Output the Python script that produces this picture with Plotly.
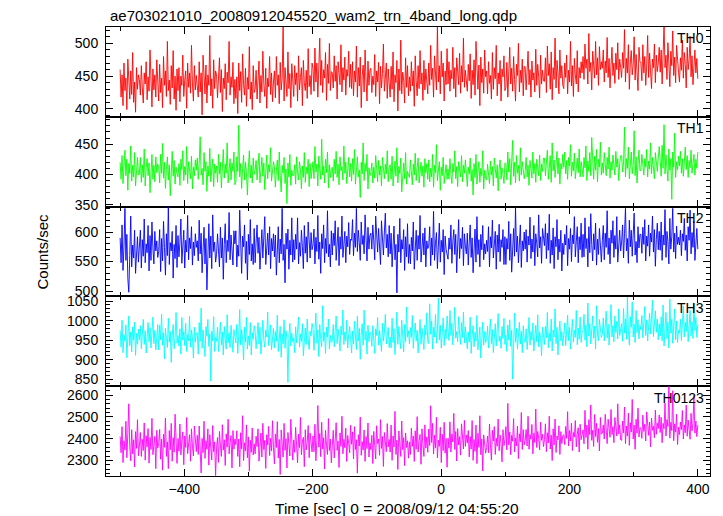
import numpy as np
import plotly.graph_objects as go
from plotly.subplots import make_subplots

title_text = "ae703021010_20080912045520_wam2_trn_4band_long.qdp"
x_title = "Time [sec] 0 = 2008/09/12 04:55:20"
y_title = "Counts/sec"
band_names = ["TH0", "TH1", "TH2", "TH3", "TH0123"]
band_colors = ["#ff0000", "#00ff00", "#0000ff", "#00ffff", "#ff00ff"]
t_start, t_end = -500, 400

th0 = [
    460,418,452,405,470,428,447,399,476,433,415,458,422,486,410,441,395,463,430,452,
    445,421,466,432,409,455,438,472,414,449,427,490,436,403,461,429,452,418,475,440,
    412,468,425,447,402,480,436,458,419,503,428,444,407,466,432,489,415,450,398,461,
    428,463,411,450,436,482,419,444,458,401,470,433,455,424,497,438,412,466,429,451,
    437,418,472,426,455,391,482,441,423,467,409,452,436,512,420,446,401,475,431,458,
    452,417,439,478,425,460,396,447,431,469,414,456,440,503,421,449,433,471,408,445,
    416,449,393,470,428,457,410,484,437,421,462,404,448,430,495,415,441,399,466,425,
    430,459,415,442,473,409,451,426,488,437,419,462,401,447,434,480,422,455,411,441,
    458,417,480,436,452,408,471,429,446,525,412,463,438,419,487,431,454,402,469,440,
    419,466,437,455,412,481,429,448,463,405,474,440,428,459,416,492,434,451,422,470,
    462,427,493,441,470,418,455,508,436,474,425,460,447,486,413,468,439,500,428,457,
    455,432,481,442,466,415,472,449,437,498,426,463,444,479,421,460,450,488,433,468,
    431,472,420,458,441,496,418,463,435,479,402,451,467,426,490,444,412,473,436,459,
    462,425,450,437,483,419,458,441,471,408,465,432,454,499,427,447,470,416,461,438,
    418,465,430,487,411,452,440,474,397,461,428,505,423,456,444,409,478,433,466,420,
    449,427,472,435,458,404,481,443,420,466,431,489,438,455,413,474,429,461,445,423,
    470,436,497,445,462,418,481,452,429,526,441,466,423,488,449,470,412,458,437,492,
    438,472,427,459,446,494,431,463,418,478,452,437,485,424,466,441,508,433,459,447,
    427,468,443,484,416,459,437,475,421,503,446,430,467,405,479,440,461,424,490,449,
    458,423,472,439,451,415,486,430,463,446,497,420,455,438,474,412,461,449,481,428,
    433,471,418,456,494,438,462,427,480,445,412,468,451,500,426,459,440,476,420,465,
    464,429,451,488,437,460,418,473,444,455,426,491,436,468,449,417,482,438,459,443,
    442,478,425,496,451,469,430,487,414,463,445,508,432,474,455,423,490,447,466,436,
    431,470,448,482,423,459,441,503,435,466,419,477,452,438,489,426,463,447,472,455,
    480,445,499,462,476,438,515,457,471,429,488,464,447,503,452,478,436,495,460,472,
    462,490,441,473,455,509,448,477,432,466,494,451,470,439,485,460,501,445,476,463,
    448,486,462,521,441,477,455,498,430,470,489,452,467,510,444,483,461,428,494,472,
    471,443,498,455,480,436,467,512,448,485,458,431,476,463,499,440,482,457,470,494,
    456,490,438,476,528,463,482,445,501,470,434,488,466,519,451,479,440,497,468,456,
    441,478,459,505,447,486,468,432,494,460,475,511,449,481,437,472,490,455,477,446,
]

th1 = [
    420,392,431,385,412,440,398,425,374,418,402,447,389,415,396,436,381,410,428,399,
    401,428,387,416,395,442,381,411,426,398,419,370,407,433,392,415,388,429,403,417,
    411,386,433,402,451,394,420,377,408,429,391,416,365,404,438,397,423,384,412,401,
    396,418,382,425,408,439,390,413,399,446,385,421,404,393,430,376,412,398,424,407,
    427,392,418,462,399,410,383,436,405,421,372,414,397,443,388,409,425,380,417,402,
    414,387,433,401,420,378,409,441,394,417,402,452,386,411,426,391,419,405,437,383,
    388,429,405,481,396,418,377,410,432,391,420,403,366,411,439,394,415,386,427,400,
    407,423,391,414,435,386,403,428,397,419,375,412,432,393,416,404,444,389,410,421,
    413,379,406,424,390,437,398,371,415,402,428,385,409,352,419,396,433,382,407,398,
    398,416,384,429,403,391,421,408,376,414,395,436,387,412,401,425,380,418,393,409,
    421,393,446,404,417,381,430,408,392,458,399,414,386,425,403,437,378,416,395,410,
    412,389,425,401,438,395,417,383,429,406,413,391,447,402,420,385,411,428,396,418,
    389,426,400,441,384,413,429,396,407,362,420,401,452,390,418,405,433,376,411,398,
    403,419,386,412,394,431,407,388,423,399,414,381,428,406,393,417,401,439,388,412,
    416,392,430,381,409,422,397,444,386,413,402,427,371,408,419,393,436,384,405,399,
    395,424,408,383,417,399,435,390,411,427,386,405,420,397,414,379,426,403,418,392,
    424,388,410,396,433,379,415,403,449,390,407,421,374,412,398,428,385,403,416,392,
    409,392,426,401,385,418,404,439,393,413,380,421,407,396,431,388,415,402,424,397,
    380,412,401,427,389,408,366,418,395,433,384,405,421,387,410,398,439,376,407,394,
    391,417,403,385,422,399,413,381,427,405,394,416,373,409,424,392,411,400,385,419,
    418,391,437,404,426,383,412,456,397,420,386,431,402,415,389,444,399,421,408,393,
    404,428,396,415,382,423,409,394,437,401,418,387,425,411,398,432,390,417,405,427,
    427,398,415,440,392,419,431,387,452,406,424,395,414,438,401,427,384,418,409,433,
    412,437,401,423,392,428,414,449,397,420,406,435,393,418,427,403,442,396,421,410,
    396,428,411,447,390,422,405,436,398,461,417,392,430,407,441,388,425,412,453,399,
    419,402,436,413,398,428,409,445,394,421,407,432,417,399,438,412,426,390,418,431,
    431,404,419,478,396,426,410,445,393,420,437,401,415,472,398,429,386,418,440,406,
    407,433,415,399,426,412,441,396,422,409,452,401,428,414,393,436,419,405,427,446,
    423,397,448,410,482,401,432,415,389,442,407,426,359,437,412,468,395,421,408,430,
    414,438,402,426,397,419,445,408,431,395,423,411,440,402,418,433,399,425,410,437,
]

th2 = [
    590,548,612,535,575,640,552,596,521,498,560,627,541,578,556,603,530,571,592,549,
    571,603,539,587,559,622,548,580,565,611,534,594,552,617,573,546,601,568,585,557,
    567,604,533,589,551,618,574,527,597,560,642,545,582,568,601,522,579,555,611,540,
    594,558,581,622,547,575,603,539,586,566,628,553,590,572,609,544,583,560,597,574,
    585,551,620,563,598,531,576,608,546,589,502,572,614,556,593,538,629,567,583,549,
    562,597,575,541,608,556,590,520,579,614,548,586,567,633,553,595,571,544,602,580,
    602,541,578,559,637,568,530,593,575,612,547,584,519,596,562,621,551,580,545,606,
    548,583,612,564,591,537,578,604,556,587,626,545,573,598,561,609,538,589,568,597,
    558,595,527,576,609,548,588,563,640,552,579,514,598,571,605,537,586,561,624,549,
    587,553,596,571,624,546,582,559,603,575,538,611,564,592,549,617,580,556,599,570,
    578,605,546,591,567,628,554,583,530,597,572,612,548,589,564,636,558,579,541,602,
    561,598,577,619,552,586,608,543,592,571,627,557,584,601,548,593,575,616,562,588,
    586,621,560,598,574,640,567,603,582,552,617,579,594,563,629,576,551,608,571,594,
    598,571,612,585,553,627,590,566,606,578,545,619,587,561,600,632,573,596,558,611,
    563,598,541,584,610,553,579,497,596,566,623,548,587,571,604,535,592,558,614,547,
    579,546,591,568,617,537,586,603,552,594,571,628,549,583,598,561,607,541,585,572,
    576,609,543,590,561,635,552,581,599,538,574,615,549,586,566,604,528,593,571,557,
    554,590,571,612,547,583,604,562,596,531,578,621,555,589,572,608,543,597,576,563,
    598,544,583,612,557,590,531,574,605,549,626,562,587,541,596,570,611,553,580,563,
    586,567,609,541,592,573,620,556,584,601,537,595,566,613,550,587,574,604,545,592,
    545,589,571,618,552,597,532,581,606,559,642,566,593,548,579,612,540,585,568,600,
    571,604,549,593,578,625,555,588,566,611,543,597,581,558,629,573,592,547,606,583,
    577,614,555,598,569,630,547,586,561,607,538,592,575,621,553,588,566,603,534,581,
    562,596,578,611,543,589,571,606,550,595,580,626,558,584,609,548,592,570,615,557,
    596,558,624,572,589,541,609,565,631,579,551,597,570,615,544,588,562,606,577,549,
    585,611,553,598,574,636,562,590,546,603,581,619,557,594,571,626,549,587,603,568,
    583,612,556,597,640,568,589,547,620,575,603,559,591,632,561,584,548,609,573,596,
    596,564,608,579,621,551,593,576,612,559,598,583,627,566,604,542,588,615,570,601,
    569,617,552,595,578,638,557,601,584,546,623,571,592,640,566,598,555,610,579,591,
    578,603,560,597,584,623,569,595,551,609,586,637,563,599,574,618,552,593,606,571,
]

th3 = [
    975,932,1001,918,963,947,989,905,958,1012,936,971,920,984,950,996,911,967,940,978,
    951,987,928,965,1003,939,974,917,960,995,946,982,930,968,1009,941,975,925,957,990,
    925,988,951,1017,937,969,902,980,954,931,1006,945,972,893,961,990,928,956,1021,942,
    962,935,979,914,1008,950,971,936,993,921,965,948,1011,932,976,957,904,983,945,968,
    968,914,995,947,1032,929,976,951,908,985,960,1003,934,966,845,973,948,1010,921,957,
    947,983,921,962,996,938,971,912,985,954,927,1015,943,969,931,988,956,919,977,950,
    943,990,916,964,1028,938,977,952,899,983,945,1008,927,961,936,995,912,969,952,987,
    972,928,961,995,940,983,914,967,1001,949,932,976,958,1022,936,963,989,925,954,980,
    930,972,947,1014,921,959,985,906,966,940,1002,929,974,952,842,961,993,935,968,946,
    955,918,984,943,971,1009,932,966,947,992,910,958,981,939,1004,952,926,973,961,993,
    981,924,963,1019,942,976,908,990,951,933,1038,947,970,916,983,958,1004,927,962,944,
    948,990,933,967,1012,941,978,955,922,986,963,1027,939,971,948,1001,930,964,985,952,
    917,973,940,998,955,926,1011,948,980,901,965,992,937,1027,950,973,914,988,946,969,
    969,934,987,951,916,979,962,1008,937,974,955,921,993,948,968,1016,940,959,982,931,
    958,930,1006,944,979,913,967,1022,939,985,952,928,1001,963,920,990,946,1035,958,974,
    940,982,957,1013,929,966,994,948,975,917,961,1003,939,980,954,926,989,963,1020,945,
    941,1043,965,999,927,983,958,1016,942,975,1058,951,988,930,969,1007,936,978,954,1012,
    977,949,1026,962,993,938,981,1034,955,972,946,1010,968,939,995,957,1022,943,984,961,
    928,971,945,1009,916,962,987,933,970,948,1013,925,960,983,904,955,996,937,972,944,
    952,986,930,968,1004,941,977,918,963,992,935,971,1018,948,960,929,985,954,1006,939,
    963,921,989,950,1002,934,975,850,968,1019,945,980,927,961,996,940,973,918,987,953,
    944,979,926,961,1008,937,972,951,994,922,966,988,946,1015,933,970,957,910,983,962,
    939,985,956,1021,930,968,947,1004,922,976,958,1030,941,983,912,965,999,948,971,935,
    958,994,936,977,1014,949,983,927,966,1003,945,975,957,1026,938,981,952,1009,944,970,
    974,1016,950,988,933,1045,961,992,940,978,1012,955,986,927,1038,966,949,1003,971,957,
    965,1007,948,983,1024,956,991,937,975,1041,958,987,946,1012,969,998,953,1030,962,984,
    992,947,1031,968,1005,952,1060,975,937,1010,983,1048,958,991,944,1026,969,1002,953,987,
    977,1013,956,994,1036,962,1002,948,985,1019,966,997,1052,959,988,1025,970,1004,951,992,
    961,1010,948,1040,935,982,1021,954,996,930,1055,968,1003,942,985,1030,951,999,944,975,
    968,1003,949,987,1037,958,995,972,1018,946,983,1026,961,997,954,1044,975,1008,957,990,
]

th0123 = [
    2410,2335,2455,2290,2390,2348,2480,2312,2425,2560,2362,2298,2441,2330,2395,2270,2432,2355,2487,2321,
    2365,2428,2318,2397,2345,2472,2301,2413,2362,2446,2287,2405,2350,2493,2326,2384,2410,2262,2438,2356,
    2378,2442,2305,2398,2255,2420,2360,2495,2318,2385,2262,2437,2349,2470,2296,2404,2338,2512,2370,2286,
    2401,2342,2467,2325,2388,2431,2280,2412,2359,2497,2331,2376,2418,2296,2445,2365,2320,2458,2383,2340,
    2415,2327,2458,2364,2242,2401,2335,2480,2309,2390,2351,2445,2278,2418,2366,2302,2460,2340,2385,2230,
    2356,2405,2291,2433,2370,2318,2464,2347,2395,2276,2422,2361,2489,2330,2381,2414,2265,2437,2352,2398,
    2372,2436,2318,2398,2270,2427,2353,2505,2299,2381,2344,2463,2312,2408,2250,2392,2337,2449,2325,2376,
    2330,2411,2363,2445,2296,2387,2426,2315,2470,2349,2392,2263,2418,2371,2456,2322,2401,2344,2482,2358,
    2283,2421,2359,2478,2310,2396,2235,2440,2362,2315,2470,2346,2400,2265,2428,2372,2320,2489,2355,2301,
    2394,2337,2452,2376,2288,2420,2359,2497,2326,2389,2406,2271,2441,2348,2383,2460,2312,2425,2367,2339,
    2412,2340,2466,2298,2390,2552,2361,2423,2317,2475,2352,2404,2260,2438,2369,2327,2492,2345,2398,2288,
    2367,2438,2311,2402,2473,2346,2389,2267,2426,2364,2503,2330,2397,2358,2448,2295,2414,2376,2335,2461,
    2374,2431,2306,2455,2350,2395,2241,2418,2366,2499,2323,2386,2347,2440,2295,2409,2354,2472,2315,2380,
    2349,2415,2285,2433,2368,2306,2459,2377,2398,2323,2487,2355,2410,2272,2428,2381,2340,2469,2362,2396,
    2338,2462,2300,2412,2361,2525,2327,2393,2258,2435,2370,2318,2481,2349,2404,2276,2426,2359,2390,2310,
    2385,2327,2448,2364,2412,2295,2436,2351,2501,2338,2390,2419,2282,2445,2372,2318,2463,2356,2408,2337,
    2444,2368,2551,2382,2470,2329,2415,2357,2498,2311,2393,2364,2452,2290,2420,2345,2475,2333,2401,2268,
    2402,2356,2477,2338,2421,2385,2516,2350,2433,2297,2446,2371,2409,2324,2468,2390,2352,2484,2364,2417,
    2380,2437,2316,2409,2352,2483,2300,2396,2341,2462,2285,2425,2360,2505,2326,2398,2251,2417,2370,2333,
    2359,2412,2335,2467,2374,2301,2438,2389,2455,2327,2402,2365,2490,2344,2416,2377,2293,2441,2368,2395,
    2455,2348,2562,2371,2430,2326,2415,2388,2492,2339,2403,2366,2458,2308,2422,2385,2520,2350,2441,2372,
    2389,2442,2366,2503,2351,2418,2397,2465,2330,2425,2382,2536,2359,2433,2401,2348,2476,2392,2420,2363,
    2395,2468,2340,2427,2380,2503,2352,2416,2299,2445,2371,2490,2336,2412,2394,2459,2327,2432,2377,2414,
    2418,2372,2456,2401,2524,2366,2437,2389,2471,2345,2428,2407,2483,2362,2419,2450,2338,2466,2395,2430,
    2440,2376,2530,2405,2462,2351,2487,2418,2555,2392,2438,2364,2511,2409,2470,2383,2446,2343,2497,2420,
    2425,2463,2398,2512,2431,2377,2489,2440,2406,2534,2418,2455,2381,2497,2436,2412,2560,2421,2463,2394,
    2392,2481,2426,2545,2377,2458,2412,2517,2369,2473,2430,2580,2398,2462,2351,2489,2425,2540,2407,2451,
    2447,2401,2508,2433,2466,2389,2523,2442,2415,2476,2362,2495,2438,2457,2404,2531,2420,2471,2446,2509,
    2428,2498,2381,2470,2445,2563,2412,2487,2456,2641,2402,2475,2437,2620,2390,2468,2430,2512,2373,2452,
    2419,2476,2441,2529,2398,2463,2427,2554,2411,2485,2450,2397,2516,2436,2471,2599,2425,2480,2409,2462,
]

series = [th0, th1, th2, th3, th0123]
y_ranges = [[388, 525], [347, 495], [491, 643], [832, 1062], [2228, 2641]]
y_dticks = [50, 50, 50, 50, 100]
y_minor = [10, 10, 10, 10, 20]
x_range = [-522, 419]

FONT = "Liberation Sans, Arial, Helvetica, sans-serif"

fig = make_subplots(rows=5, cols=1, shared_xaxes=True, vertical_spacing=0)

for i, (vals, col) in enumerate(zip(series, band_colors)):
    t = np.linspace(t_start, t_end, len(vals))
    fig.add_trace(
        go.Scatter(x=t, y=vals, mode="lines", line=dict(color=col, width=0.9),
                   showlegend=False, hoverinfo="skip"),
        row=i + 1, col=1)
    fig.update_yaxes(
        range=y_ranges[i], dtick=y_dticks[i], tick0=0,
        ticks="inside", ticklen=7, tickwidth=1, tickcolor="black",
        minor=dict(dtick=y_minor[i], ticks="inside", ticklen=4, tickcolor="black", showgrid=False),
        showline=True, linecolor="black", linewidth=1, mirror="allticks",
        showgrid=False, zeroline=False,
        tickfont=dict(family=FONT, size=14, color="black"),
        ticklabelstandoff=4,
        row=i + 1, col=1)
    fig.update_xaxes(
        range=x_range, dtick=200, tick0=0,
        ticks="inside", ticklen=7, tickwidth=1, tickcolor="black",
        minor=dict(dtick=100, ticks="inside", ticklen=4, tickcolor="black", showgrid=False),
        showline=True, linecolor="black", linewidth=1, mirror="allticks",
        showgrid=False, zeroline=False,
        showticklabels=(i == 4),
        tickfont=dict(family=FONT, size=14, color="black"),
        row=i + 1, col=1)

annotations = []
for i, name in enumerate(band_names):
    yref = "y domain" if i == 0 else f"y{i + 1} domain"
    annotations.append(dict(
        text=name, xref="x domain", yref=yref, x=0.993, y=0.985,
        xanchor="right", yanchor="top", showarrow=False,
        font=dict(family=FONT, size=14, color="black")))

annotations.append(dict(text=title_text, xref="paper", yref="paper", x=0.003, y=1.0,
                        yshift=1, xanchor="left", yanchor="bottom", showarrow=False,
                        font=dict(family=FONT, size=15, color="black")))
annotations.append(dict(text=x_title, xref="paper", yref="paper", x=0.4826, y=0,
                        yshift=-22, xanchor="center", yanchor="top", showarrow=False,
                        font=dict(family=FONT, size=15.5, color="black")))
annotations.append(dict(text=y_title, xref="paper", yref="paper", x=0, y=0.5,
                        xshift=-64, textangle=-90, xanchor="center", yanchor="middle",
                        showarrow=False, font=dict(family=FONT, size=15, color="black")))

# The page body has an 8px margin, so the figure is made 8px smaller and its margins
# are trimmed to keep the plot frame at the reference's pixel position.
fig.update_layout(
    width=715, height=508,
    margin=dict(l=98, r=13, t=19, b=40),
    paper_bgcolor="white", plot_bgcolor="white",
    annotations=annotations,
    font=dict(family=FONT, color="black"),
)

fig.write_html("out.html")
